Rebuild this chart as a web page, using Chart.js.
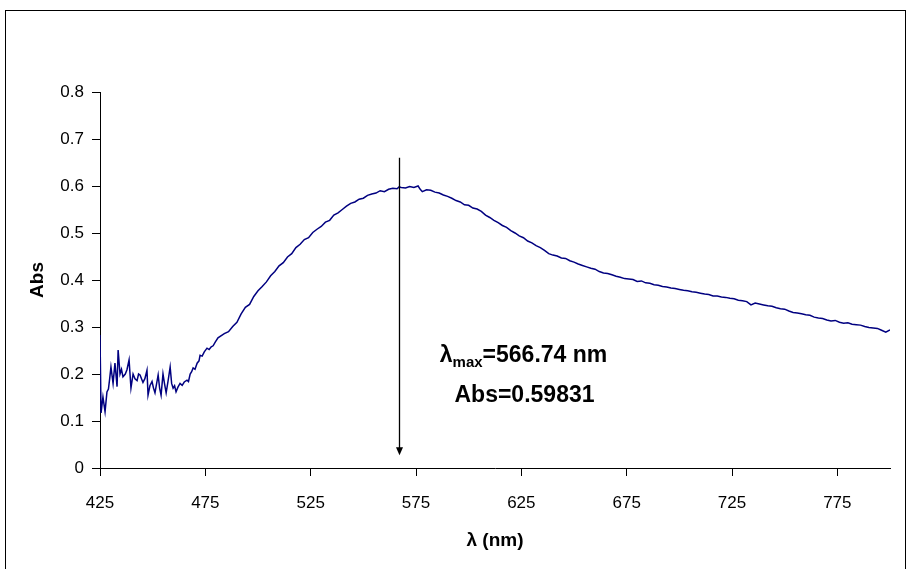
<!DOCTYPE html>
<html>
<head>
<meta charset="utf-8">
<script src="https://cdn.jsdelivr.net/npm/chart.js@4.4.1/dist/chart.umd.min.js"></script>
<style>
html,body{margin:0;padding:0;background:#fff;}
#wrap{width:907px;height:569px;position:relative;}
</style>
</head>
<body>
<div id="wrap"><canvas id="c" width="907" height="569"></canvas></div>
<script>
// ---- data ----
const wavelength = [
425,425.5,426.4,427.4,428.3,429,429.6,430.2,431.2,432.1,433.1,433.6,434.5,435.2,435.9,437,437.8,438.8,439.7,440.7,
441.6,442.6,443.3,444,445.4,446.3,447.3,447.8,448.7,449.7,450.4,451.1,452.6,453.3,454,454.9,455.6,456.4,457.3,458.3,
459,459.7,460.4,461.1,462,463,464,465,466.3,467,467.8,468.5,469.2,470.1,471.1,472,472.5,473.5,474.5,475.8,
476.8,477.8,478.7,479.7,481,
484,486,488,490,492,494,496,498,500,502,504,506,508,510,512,514,516,518,520,
522,524,526,528,530,532,534,536,538,540,542,544,546,548,550,552,554,556,558,560,
562,564,566,567,568,570,572,574,576,577,578,580,582,584,586,588,590,592,594,596,
598,600,602,604,606,608,610,612,614,616,618,620,622,624,626,628,630,632,634,636,
638,640,642,644,646,648,650,652,654,656,658,660,662,664,666,668,670,672,674,676,
678,680,682,684,686,688,690,692,694,696,698,700,702,704,706,708,710,712,714,716,
718,720,722,724,726,728,730,732,734,736,738,740,742,744,746,748,750,752,754,756,
758,760,762,764,766,768,770,772,774,776,778,780,782,784,786,788,790,792,794,796,
798,800
];
const absorbance = [
0.283,0.117,0.151,0.120,0.162,0.168,0.190,0.215,0.180,0.223,0.173,0.251,0.200,0.210,0.194,0.200,0.209,0.230,0.170,0.200,
0.190,0.186,0.200,0.198,0.182,0.190,0.208,0.155,0.175,0.184,0.170,0.160,0.198,0.170,0.155,0.200,0.180,0.160,0.185,0.215,
0.180,0.170,0.175,0.162,0.172,0.180,0.176,0.183,0.187,0.184,0.200,0.205,0.213,0.210,0.223,0.228,0.240,0.238,0.247,0.255,
0.252,0.258,0.260,0.268,0.277,
0.286,0.290,0.301,0.310,0.328,0.342,0.348,0.365,0.377,0.386,0.396,0.409,0.418,0.430,0.437,0.449,0.456,0.469,0.476,
0.486,0.490,0.501,0.508,0.514,0.523,0.527,0.538,0.543,0.550,0.557,0.563,0.566,0.572,0.574,0.580,0.583,0.585,0.590,0.588,
0.593,0.595,0.594,0.598,0.597,0.596,0.599,0.597,0.600,0.593,0.588,0.592,0.591,0.587,0.585,0.581,0.578,0.574,0.569,0.566,
0.560,0.559,0.553,0.551,0.546,0.538,0.533,0.527,0.522,0.516,0.512,0.505,0.500,0.494,0.490,0.483,0.479,0.473,0.469,0.463,
0.456,0.453,0.451,0.447,0.446,0.441,0.438,0.434,0.431,0.428,0.425,0.423,0.418,0.415,0.414,0.411,0.408,0.406,0.403,0.402,
0.401,0.397,0.398,0.394,0.393,0.390,0.389,0.386,0.385,0.383,0.382,0.380,0.378,0.377,0.375,0.374,0.372,0.370,0.369,0.366,
0.366,0.364,0.363,0.361,0.360,0.357,0.356,0.354,0.347,0.351,0.349,0.347,0.345,0.344,0.341,0.339,0.338,0.334,0.331,0.330,
0.328,0.326,0.325,0.321,0.319,0.318,0.315,0.313,0.314,0.310,0.308,0.309,0.306,0.305,0.304,0.301,0.299,0.298,0.297,0.293,
0.289,0.294
];
const xTickValues = [425,475,525,575,625,675,725,775];
const xTickLabels = ['425','475','525','575','625','675','725','775'];
const yTickValues = [0,0.1,0.2,0.3,0.4,0.5,0.6,0.7,0.8];
const yTickLabels = ['0','0.1','0.2','0.3','0.4','0.5','0.6','0.7','0.8'];
const peakWavelength = 566.74;
const peakAbs = 0.59831;
const xTitle = 'λ (nm)';
const yTitle = 'Abs';

const points = wavelength.map((w,i)=>({x:w,y:absorbance[i]}));
const FONT = '"Liberation Sans", Arial, sans-serif';

const frame = {
  id:'frame',
  beforeDraw(chart){
    const ctx = chart.ctx;
    ctx.save();
    ctx.fillStyle='#fff';
    ctx.fillRect(0,0,chart.width,chart.height);
    ctx.strokeStyle='#000';
    ctx.lineWidth=1;
    ctx.strokeRect(5.5,10.5,900,620);
    ctx.restore();
  }
};

const annot = {
  id:'annot',
  afterDatasetsDraw(chart){
    const ctx = chart.ctx, xs = chart.scales.x, ys = chart.scales.y;
    const ax = Math.round(xs.getPixelForValue(peakWavelength))+0.5;
    const yTop = ys.getPixelForValue(0.66);
    const yBot = ys.getPixelForValue(0.027);
    ctx.save();
    ctx.strokeStyle='#000';
    ctx.fillStyle='#000';
    ctx.lineWidth=1.3;
    ctx.beginPath();
    ctx.moveTo(ax,yTop);
    ctx.lineTo(ax,yBot-6);
    ctx.stroke();
    ctx.beginPath();
    ctx.moveTo(ax-3.5,yBot-8);
    ctx.lineTo(ax+3.5,yBot-8);
    ctx.lineTo(ax,yBot);
    ctx.closePath();
    ctx.fill();

    // text
    const cx = ax + 124;
    const big = 'bold 23px ' + FONT;
    const small = 'bold 15px ' + FONT;
    const p1 = 'λ', p2 = 'max', p3 = '=' + peakWavelength.toFixed(2) + ' nm';
    ctx.font = big; const w1 = ctx.measureText(p1).width, w3 = ctx.measureText(p3).width;
    ctx.font = small; const w2 = ctx.measureText(p2).width;
    let x = cx - (w1+w2+w3)/2;
    const y1 = 362, y2 = 402;
    ctx.textBaseline='alphabetic';
    ctx.textAlign='left';
    ctx.font = big; ctx.fillText(p1,x,y1); x+=w1;
    ctx.font = small; ctx.fillText(p2,x,y1+5); x+=w2;
    ctx.font = big; ctx.fillText(p3,x,y1);
    ctx.textAlign='center';
    ctx.fillText('Abs=' + peakAbs.toFixed(5), cx+1, y2);
    ctx.restore();
  }
};

new Chart(document.getElementById('c'),{
  type:'line',
  data:{datasets:[{
    data:points,
    borderColor:'#000080',
    borderWidth:1.5,
    pointRadius:0,
    tension:0,
    fill:false
  }]},
  options:{
    responsive:false,
    animation:false,
    events:[],
    layout:{padding:{left:5,top:92,right:17,bottom:0}},
    plugins:{legend:{display:false},tooltip:{enabled:false}},
    scales:{
      x:{
        type:'linear',
        min:425,max:800,
        afterBuildTicks(s){ s.ticks = xTickValues.map(v=>({value:v})); },
        afterFit(s){ s.height = 101; },
        ticks:{
          autoSkip:false,maxRotation:0,padding:17,color:'#000',
          font:{family:FONT,size:17},
          callback:(v,i)=>xTickLabels[i]
        },
        grid:{display:true,drawOnChartArea:false,drawTicks:true,tickLength:8,color:'#000',lineWidth:1},
        border:{display:true,color:'#000',width:1},
        title:{display:true,text:xTitle,color:'#000',
          font:{family:FONT,size:19,weight:'bold'},
          padding:{top:0,bottom:17}}
      },
      y:{
        type:'linear',
        min:0,max:0.8,
        afterBuildTicks(s){ s.ticks = yTickValues.map(v=>({value:v})); },
        afterFit(s){ s.width = 95; },
        ticks:{
          autoSkip:false,padding:8,color:'#000',
          font:{family:FONT,size:17},
          callback:(v,i)=>yTickLabels[i]
        },
        grid:{display:true,drawOnChartArea:false,drawTicks:true,tickLength:8,color:'#000',lineWidth:1},
        border:{display:true,color:'#000',width:1},
        title:{display:true,text:yTitle,color:'#000',
          font:{family:FONT,size:19,weight:'bold'},
          padding:{top:21,bottom:0}}
      }
    }
  },
  plugins:[frame,annot]
});
</script>
</body>
</html>
